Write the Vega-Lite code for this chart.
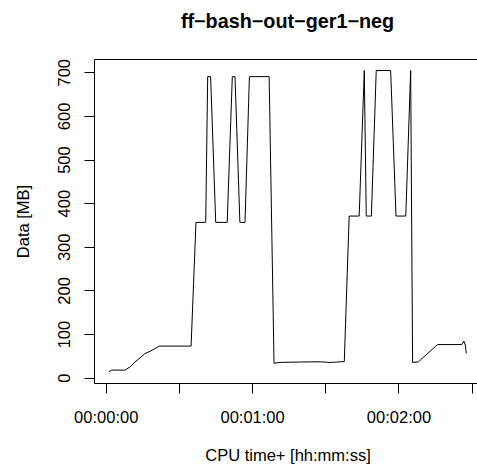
{
  "$schema": "https://vega.github.io/schema/vega-lite/v6.json",
  "width": 383,
  "height": 324,
  "autosize": {"type": "none"},
  "padding": {"left": 94, "top": 59, "right": 0, "bottom": 87},
  "title": {
    "text": "ff−bash−out−ger1−neg",
    "font": "Liberation Sans",
    "fontSize": 19.8,
    "fontWeight": "bold",
    "color": "black",
    "anchor": "middle",
    "frame": "group",
    "baseline": "alphabetic",
    "offset": 11,
    "dx": 2
  },
  "data": {
    "values": [
      {"t": 1.3, "v": 14},
      {"t": 2.5, "v": 17.5},
      {"t": 8, "v": 17.5},
      {"t": 10, "v": 25},
      {"t": 12, "v": 36},
      {"t": 14, "v": 45},
      {"t": 16, "v": 55},
      {"t": 19, "v": 63},
      {"t": 22, "v": 72.5},
      {"t": 35, "v": 72.5},
      {"t": 37, "v": 356},
      {"t": 41, "v": 356},
      {"t": 41.8, "v": 690},
      {"t": 43, "v": 690},
      {"t": 45.1, "v": 356},
      {"t": 49.8, "v": 356},
      {"t": 51.9, "v": 690},
      {"t": 53, "v": 690},
      {"t": 55, "v": 356},
      {"t": 57.1, "v": 356},
      {"t": 58.9, "v": 690},
      {"t": 67, "v": 690},
      {"t": 69, "v": 33},
      {"t": 71, "v": 35},
      {"t": 80, "v": 36},
      {"t": 88, "v": 36.5},
      {"t": 92, "v": 35},
      {"t": 97.8, "v": 37},
      {"t": 99.8, "v": 370.5},
      {"t": 103.9, "v": 370.5},
      {"t": 106, "v": 704},
      {"t": 106.8, "v": 370.5},
      {"t": 108.9, "v": 370.5},
      {"t": 110.9, "v": 704},
      {"t": 116.8, "v": 704},
      {"t": 119, "v": 370.5},
      {"t": 123, "v": 370.5},
      {"t": 125, "v": 704},
      {"t": 125.8, "v": 35},
      {"t": 128.1, "v": 36},
      {"t": 136, "v": 76},
      {"t": 146, "v": 76},
      {"t": 146.8, "v": 84},
      {"t": 147.4, "v": 75},
      {"t": 147.8, "v": 56}
    ]
  },
  "layer": [
    {
      "mark": {"type": "line", "color": "black", "strokeWidth": 1},
      "encoding": {
        "x": {
          "field": "t",
          "type": "quantitative",
          "scale": {"domain": [-4.8, 152.2], "nice": false, "zero": false},
          "axis": {
            "orient": "bottom",
            "values": [0, 30, 60, 90, 120, 150],
            "labelExpr": "datum.value % 60 == 0 ? '00:0' + (datum.value / 60) + ':00' : ''",
            "grid": false,
            "domain": true,
            "domainColor": "black",
            "domainWidth": 1,
            "ticks": true,
            "tickColor": "black",
            "tickWidth": 1,
            "tickSize": 10,
            "labelFont": "Liberation Sans",
            "labelFontSize": 16.5,
            "labelColor": "black",
            "labelPadding": 16,
            "labelFlush": false,
            "labelOverlap": false,
            "title": "CPU time+ [hh:mm:ss]",
            "titleFont": "Liberation Sans",
            "titleFontSize": 16.5,
            "titleFontWeight": "normal",
            "titleColor": "black",
            "titleX": 193.5,
            "titleY": 77,
            "titleAlign": "center",
            "titleBaseline": "alphabetic"
          }
        },
        "y": {
          "field": "v",
          "type": "quantitative",
          "scale": {"domain": [-12.1, 730.4], "nice": false, "zero": false},
          "axis": {
            "orient": "left",
            "values": [0, 100, 200, 300, 400, 500, 600, 700],
            "grid": false,
            "domain": true,
            "domainColor": "black",
            "domainWidth": 1,
            "ticks": true,
            "tickColor": "black",
            "tickWidth": 1,
            "tickSize": 10,
            "labelFont": "Liberation Sans",
            "labelFontSize": 16.5,
            "labelColor": "black",
            "labelAngle": 270,
            "labelAlign": "center",
            "labelBaseline": "alphabetic",
            "labelPadding": 14.7,
            "labelFlush": false,
            "labelOverlap": false,
            "title": "Data [MB]",
            "titleFont": "Liberation Sans",
            "titleFontSize": 16.5,
            "titleFontWeight": "normal",
            "titleColor": "black",
            "titleAngle": 270,
            "titleX": -66,
            "titleY": 162,
            "titleAlign": "center",
            "titleBaseline": "alphabetic"
          }
        }
      }
    },
    {
      "mark": {"type": "line", "strokeOpacity": 0},
      "encoding": {
        "x": {
          "field": "t",
          "type": "quantitative",
          "axis": {
            "orient": "top",
            "domain": true,
            "domainColor": "black",
            "domainWidth": 1,
            "ticks": false,
            "labels": false,
            "grid": false,
            "title": null
          }
        },
        "y": {"field": "v", "type": "quantitative"}
      }
    }
  ],
  "resolve": {"axis": {"x": "independent"}},
  "config": {"view": {"stroke": null}, "background": "white"}
}
